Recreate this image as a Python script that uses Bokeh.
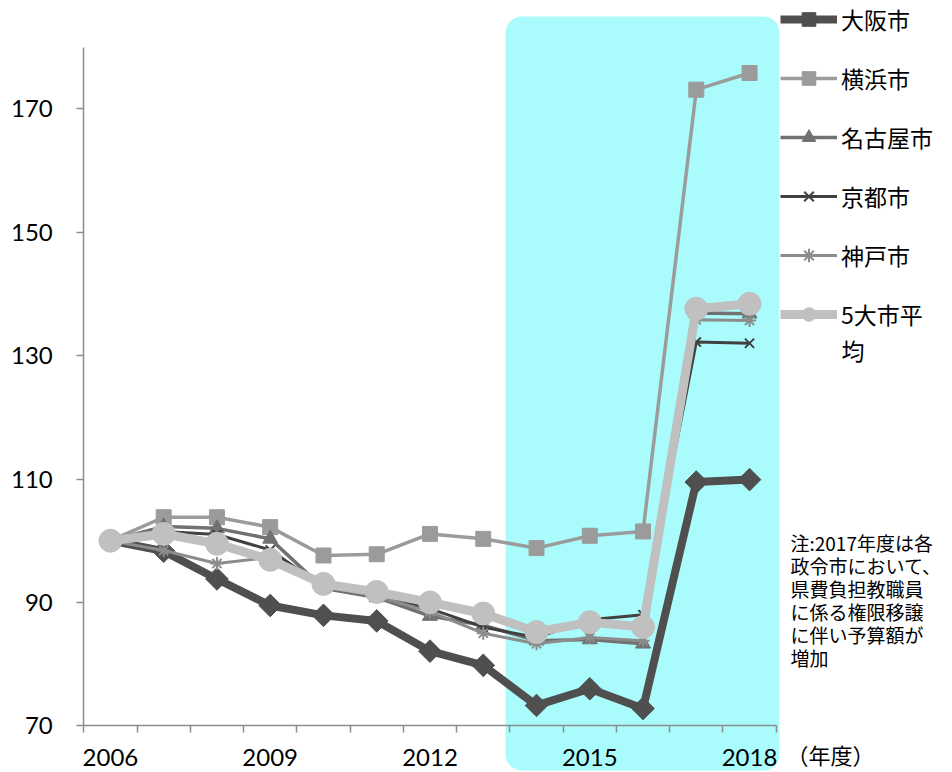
import math
from bokeh.plotting import figure
from bokeh.models import Range1d, FixedTicker, BoxAnnotation, Label, Legend, LegendItem
from bokeh.embed import file_html
from bokeh.resources import INLINE

# ---- data ----
years = list(range(2006, 2019))
osaka    = [100, 98.3, 93.8, 89.5, 87.9, 87.0, 82.1, 79.8, 73.3, 76.0, 72.8, 109.5, 109.9]
yokohama = [100, 103.8, 103.8, 102.2, 97.6, 97.8, 101.1, 100.3, 98.8, 100.8, 101.5, 173.1, 175.8]
nagoya   = [100, 102.3, 102.0, 100.3, 92.3, 90.8, 87.8, 86.3, 83.8, 84.0, 83.3, 136.9, 136.8]
kyoto    = [100, 101.5, 101.0, 98.5, 92.5, 91.0, 89.0, 86.0, 84.3, 87.2, 88.0, 132.2, 132.0]
kobe     = [100, 98.4, 96.3, 97.3, 92.5, 91.0, 88.5, 85.0, 83.3, 84.3, 83.8, 135.8, 135.7]
average  = [100, 101.1, 99.5, 96.9, 93.0, 91.7, 90.0, 88.2, 85.2, 86.8, 86.0, 137.6, 138.4]

legend_labels = ["大阪市", "横浜市", "名古屋市", "京都市", "神戸市", "5大市平"]
legend_wrap = "均"
y_ticks = [70, 90, 110, 130, 150, 170]
x_label_years = [2006, 2009, 2012, 2015, 2018]
highlight_years = (2013.42, 2018.56)
note = "注:2017年度は各\n政令市において、\n県費負担教職員\nに係る権限移譲\nに伴い予算額が\n増加"
unit_label = "（年度）"

series = [osaka, yokohama, nagoya, kyoto, kobe, average]
styles = [
    dict(color="#4f4f4f", lw=8, marker="square", size=16, angle=math.pi / 4),
    dict(color="#9b9b9b", lw=3.5, marker="square", size=15, angle=0),
    dict(color="#717171", lw=3.5, marker="triangle", size=15, angle=0),
    dict(color="#414141", lw=3, marker="x", size=13, angle=0),
    dict(color="#8c8c8c", lw=3, marker="asterisk", size=13, angle=0),
    dict(color="#c0c0c0", lw=9, marker="circle", size=23, angle=0),
]

# geometry: page pixels <-> data
W, H = 952, 772
X0_PX, XU = 83.3, 53.26      # x=2005.5 at X0_PX, px per year
Y0_PX, YU = 725.3, 6.17      # y=70 at Y0_PX, px per unit
x_start = 2005.5 - X0_PX / XU
x_end = 2005.5 + (W - X0_PX) / XU
y_start = 70 - (H - Y0_PX) / YU
y_end = 70 + Y0_PX / YU

def dx(px):
    return 2005.5 + (px - X0_PX) / XU

def dy(py):
    return 70 + (Y0_PX - py) / YU

p = figure(width=W, height=H, x_range=Range1d(x_start, x_end), y_range=Range1d(y_start, y_end),
           output_backend="svg", toolbar_location=None, min_border=0)
p.outline_line_color = None
p.xgrid.visible = False
p.ygrid.visible = False
p.background_fill_color = "white"
p.border_fill_color = "white"

box = BoxAnnotation(left=highlight_years[0], right=highlight_years[1],
                    bottom=dy(770), top=dy(16),
                    fill_color="#aafcfc", fill_alpha=1.0, line_color=None,
                    border_radius=16, level="underlay")
p.add_layout(box)

axis_color = "#8c8c8c"
xa = p.xaxis[0]
xa.fixed_location = 70
xa.ticker = FixedTicker(ticks=x_label_years, minor_ticks=[2005.5 + i for i in range(14)])
xa.bounds = (2005.5, 2018.5)
xa.major_tick_out = 0
xa.major_tick_in = 0
xa.minor_tick_out = 7
xa.minor_tick_in = 0
xa.axis_line_color = axis_color
xa.axis_line_width = 1.5
xa.minor_tick_line_color = axis_color
xa.minor_tick_line_width = 1.5
xa.major_label_text_font = "Lato"
xa.major_label_text_font_size = "24px"
xa.major_label_text_color = "#000000"
xa.major_label_standoff = 16

ya = p.yaxis[0]
ya.fixed_location = 2005.5
ya.ticker = FixedTicker(ticks=y_ticks, minor_ticks=[])
ya.bounds = (70, 180)
ya.major_tick_out = 7
ya.major_tick_in = 0
ya.minor_tick_out = 0
ya.minor_tick_in = 0
ya.axis_line_color = axis_color
ya.axis_line_width = 1.5
ya.major_tick_line_color = axis_color
ya.major_tick_line_width = 1.5
ya.major_label_text_font = "Lato"
ya.major_label_text_font_size = "24px"
ya.major_label_text_color = "#000000"
ya.major_label_standoff = 24

items = []
for vals, st, lab in zip(series, styles, legend_labels):
    r1 = p.line(years, vals, line_color=st["color"], line_width=st["lw"], line_join="round")
    if st["marker"] in ("x", "asterisk"):
        r2 = p.scatter(years, vals, marker=st["marker"], size=st["size"], angle=st["angle"],
                       line_color=st["color"], line_width=2, fill_color=st["color"])
    else:
        r2 = p.scatter(years, vals, marker=st["marker"], size=st["size"], angle=st["angle"],
                       fill_color=st["color"], line_color=st["color"], line_width=1)
    items.append(LegendItem(label=lab, renderers=[r1, r2]))

legend = Legend(items=items, location=(780, 441), margin=0, padding=0, spacing=25,
                glyph_width=57, glyph_height=34, label_height=34, label_standoff=4,
                label_text_font="Noto Sans CJK JP", label_text_font_size="23px",
                label_text_color="#000000",
                border_line_color=None, background_fill_alpha=0)
p.add_layout(legend)

p.add_layout(Label(x=dx(841), y=dy(349), text=legend_wrap,
                   text_font="Noto Sans CJK JP", text_font_size="23px",
                   text_color="#000000", text_baseline="middle", text_align="left"))
p.add_layout(Label(x=dx(790), y=dy(528), text=note,
                   text_font="Noto Sans CJK JP", text_font_size="19px",
                   text_color="#000000", text_baseline="top", text_align="left",
                   text_line_height=0.856))
p.add_layout(Label(x=dx(786), y=dy(753), text=unit_label,
                   text_font="Noto Sans CJK JP", text_font_size="22px",
                   text_color="#000000", text_baseline="middle", text_align="left"))

open("out.html", "w").write(file_html(p, INLINE))
